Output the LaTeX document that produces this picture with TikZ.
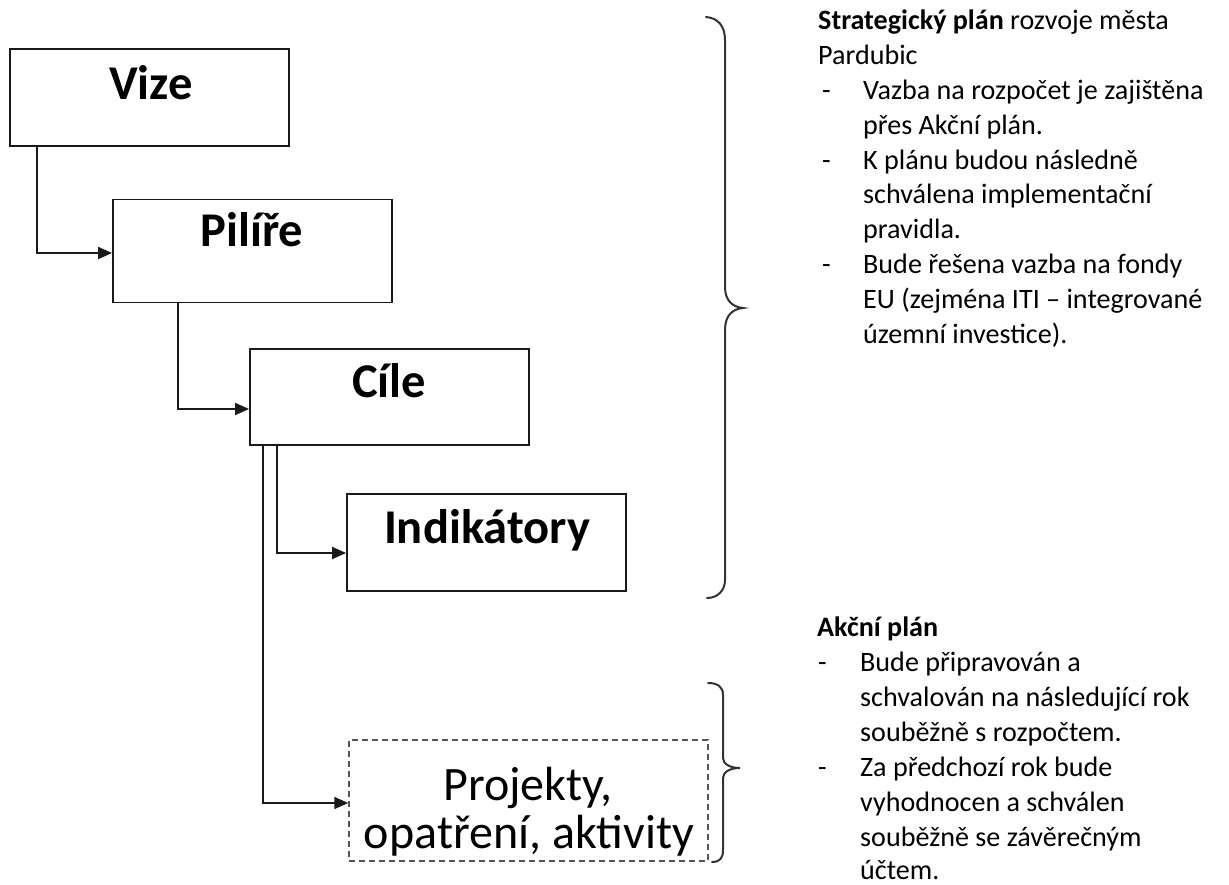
\documentclass[tikz,border=0pt]{standalone}
\usepackage{fontspec}
\setmainfont{Carlito}
\usetikzlibrary{arrows.meta}
\definecolor{ink}{HTML}{1A1A1A}
\definecolor{brc}{HTML}{333333}
\definecolor{dsh}{HTML}{555555}
\tikzset{
  box/.style={draw=ink, line width=1.8pt, rectangle, inner sep=0pt},
  dbox/.style={draw=dsh, line width=1.5pt, rectangle, inner sep=0pt, dash pattern=on 6pt off 4pt},
  boxtext/.style={inner sep=0pt, anchor=base, font=\fontsize{48.5}{50}\selectfont\bfseries, text=black},
  projtext/.style={inner sep=0pt, anchor=base, font=\fontsize{48}{50}\selectfont, text=black},
  conn/.style={draw=ink, line width=1.8pt, -{Triangle[length=14pt,width=12pt]}},
  bracestyle/.style={draw=brc, line width=2pt, line cap=round},
  rt/.style={inner sep=0pt, anchor=base west, font=\fontsize{28.1}{34.8}\selectfont, text=black},
}
\begin{document}
\begin{tikzpicture}[x=1pt,y=-1pt]
\useasboundingbox (0,0) rectangle (1229,885);
\fill[white] (0,0) rectangle (1229,885);

% boxes
\node[box, minimum width=279pt, minimum height=97pt] (vize) at (149.5,97.5) {};
\node[box, minimum width=279pt, minimum height=103pt] (pilire) at (252.5,251) {};
\node[box, minimum width=279pt, minimum height=96pt] (cile) at (389.5,397) {};
\node[box, minimum width=279pt, minimum height=97pt] (indik) at (486.5,542.5) {};
\node[dbox, minimum width=359pt, minimum height=121pt] (proj) at (528.5,800.5) {};

% box texts
\node[boxtext] (tvize) at (151,100) {Vize};
\node[boxtext] (tpilire) at (252,247) {Pilíře};
\node[boxtext] (tcile) at (389,397) {Cíle};
\node[boxtext] (tindik) at (487,543) {Indikátory};
\node[projtext] (tproj1) at (528,800) {Projekty,};
\node[projtext] (tproj2) at (529,848) {opatření, aktivity};

% connectors
\draw[conn] ([xshift=28pt]vize.south west) |- ([yshift=-2pt]pilire.west);
\draw[conn] ([xshift=66pt]pilire.south west) |- ([yshift=-12pt]cile.west);
\draw[conn] ([xshift=28pt]cile.south west) |- ([yshift=-10.5pt]indik.west);
\draw[conn] ([xshift=14pt]cile.south west) |- ([yshift=-2.5pt]proj.west);

% braces
\draw[bracestyle] (706,17) .. controls (718,18) and (725,26) .. (725,40) -- (725,287)
  .. controls (725,300) and (732,307) .. (743,308)
  .. controls (732,309) and (725,316) .. (725,330) -- (725,580)
  .. controls (725,590) and (718,598) .. (707,598);
\draw[bracestyle] (708,683) .. controls (718,683) and (723,687) .. (723,695) -- (723,758)
  .. controls (723,764) and (730,768) .. (740,768)
  .. controls (730,768) and (723,772) .. (723,778) -- (723,850)
  .. controls (723,858) and (720,862) .. (712,862);

% right text block 1
\node[rt] (s1) at (818,30) {\textbf{Strategický plán} rozvoje města};
\node[rt] (s2) at (818,64.8) {Pardubic};
\node[rt] (s3d) at (822,99.6) {-};
\node[rt] (s3) at (863,99.6) {Vazba na rozpočet je zajištěna};
\node[rt] (s4) at (863,134.4) {přes Akční plán.};
\node[rt] (s5d) at (822,169.2) {-};
\node[rt] (s5) at (863,169.2) {K plánu budou následně};
\node[rt] (s6) at (863,204) {schválena implementační};
\node[rt] (s7) at (863,238.8) {pravidla.};
\node[rt] (s8d) at (822,273.6) {-};
\node[rt] (s8) at (863,273.6) {Bude řešena vazba na fondy};
\node[rt] (s9) at (863,308.4) {EU (zejména ITI – integrované};
\node[rt] (s10) at (863,343.2) {územní investice).};

% right text block 2
\node[rt] (a1) at (817,636) {\textbf{Akční plán}};
\node[rt] (a2d) at (818,671) {-};
\node[rt] (a2) at (860,671) {Bude připravován a};
\node[rt] (a3) at (860,706) {schvalován na následující rok};
\node[rt] (a4) at (860,741) {souběžně s rozpočtem.};
\node[rt] (a5d) at (818,776) {-};
\node[rt] (a5) at (860,776) {Za předchozí rok bude};
\node[rt] (a6) at (860,811) {vyhodnocen a schválen};
\node[rt] (a7) at (860,846) {souběžně se závěrečným};
\node[rt] (a8) at (860,879) {účtem.};
\end{tikzpicture}
\end{document}
